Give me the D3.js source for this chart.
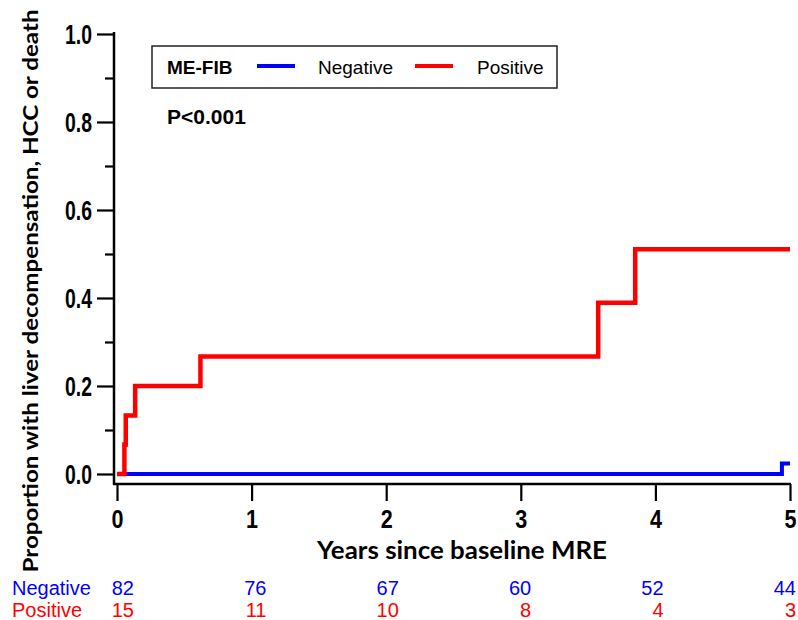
<!DOCTYPE html>
<html lang="en">
<head>
<meta charset="UTF-8">
<title>ME-FIB cumulative incidence</title>
<script src="https://d3js.org/d3.v7.min.js"></script>
<style>
    body { margin: 0; padding: 0; background: #fff; }
    svg { display: block; }
    .tick-label { font-family: 'Liberation Sans', Arial, sans-serif; font-weight: bold; fill: #000; }
</style>
</head>
<body>
<svg id="chart"></svg>
<script>
    // ---- data ----
    const redTimes  = [0, 0.055, 0.065, 0.135, 0.62, 3.575, 3.85];
    const redValues = [0, 0.067, 0.133, 0.2, 0.267, 0.389, 0.511];
    const blueTimes  = [0, 4.94];
    const blueValues = [0, 0.024];
    const endTime = 5;

    const yTicks = [0, 0.2, 0.4, 0.6, 0.8, 1.0];
    const yMinorTicks = [0.1, 0.3, 0.5, 0.7, 0.9];
    const xTicks = [0, 1, 2, 3, 4, 5];

    const riskTimes = [0, 1, 2, 3, 4, 5];
    const negativeRisk = [82, 76, 67, 60, 52, 44];
    const positiveRisk = [15, 11, 10, 8, 4, 3];

    const groupNames = ["Negative", "Positive"];
    const groupColors = ["#0000ff", "#ff0000"];

    const W = 798, H = 620;
    const svg = d3.select("#chart").attr("width", W).attr("height", H);

    // scales
    const x = d3.scaleLinear().domain([0, 5]).range([117, 790]);
    const y = d3.scaleLinear().domain([0, 1]).range([474, 34]);
    const xRisk = d3.scaleLinear().domain([0, 5]).range([134, 796]);

    const axisX = 114, axisY = 484;

    // y axis
    const yAxis = svg.append("g")
        .attr("transform", `translate(${axisX},0)`)
        .call(d3.axisLeft(y).tickValues(yTicks).tickFormat(d3.format(".1f")).tickSize(17).tickPadding(5).tickSizeOuter(0));
    yAxis.select(".domain").remove();
    yAxis.selectAll(".tick line").attr("stroke", "#000").attr("stroke-width", 2.2);
    yAxis.selectAll(".tick text")
        .attr("class", "tick-label")
        .style("font-size", "27px")
        .attr("dy", "0.36em")
        .attr("textLength", 27)
        .attr("lengthAdjust", "spacingAndGlyphs");

    const yMinor = svg.append("g")
        .attr("transform", `translate(${axisX},0)`)
        .call(d3.axisLeft(y).tickValues(yMinorTicks).tickSize(9).tickFormat(""));
    yMinor.select(".domain").remove();
    yMinor.selectAll(".tick line").attr("stroke", "#000").attr("stroke-width", 2.2);

    svg.append("line")
        .attr("x1", axisX).attr("x2", axisX)
        .attr("y1", y(1) - 2).attr("y2", axisY + 1)
        .attr("stroke", "#000").attr("stroke-width", 2.5);

    // x axis
    const xAxis = svg.append("g")
        .attr("transform", `translate(0,${axisY})`)
        .call(d3.axisBottom(x).tickValues(xTicks).tickFormat(d3.format("d")).tickSize(17).tickPadding(9).tickSizeOuter(0));
    xAxis.select(".domain").remove();
    xAxis.selectAll(".tick line").attr("stroke", "#000").attr("stroke-width", 2.2);
    xAxis.selectAll(".tick text")
        .attr("class", "tick-label")
        .style("font-size", "26px")
        .attr("textLength", 12)
        .attr("lengthAdjust", "spacingAndGlyphs");

    svg.append("line")
        .attr("x1", axisX - 1).attr("x2", x(5) + 1)
        .attr("y1", axisY).attr("y2", axisY)
        .attr("stroke", "#000").attr("stroke-width", 2.5);

    // axis titles
    svg.append("text")
        .attr("transform", `translate(38,291) rotate(-90)`)
        .attr("text-anchor", "middle")
        .style("font-family", "Lato, 'Open Sans', sans-serif")
        .style("font-weight", "bold")
        .style("font-size", "21px")
        .attr("textLength", 563)
        .attr("lengthAdjust", "spacingAndGlyphs")
        .text("Proportion with liver decompensation, HCC or death");

    svg.append("text")
        .attr("x", 462).attr("y", 559)
        .attr("text-anchor", "middle")
        .style("font-family", "Lato, 'Open Sans', sans-serif")
        .style("font-weight", "bold")
        .style("font-size", "24px")
        .attr("textLength", 290)
        .attr("lengthAdjust", "spacingAndGlyphs")
        .text("Years since baseline MRE");

    // step curves
    const stepLine = d3.line()
        .x(d => x(d[0]))
        .y(d => y(d[1]))
        .curve(d3.curveStepAfter);

    function curveData(times, values) {
        const pts = times.map((t, i) => [t, values[i]]);
        pts.push([endTime, values[values.length - 1]]);
        return pts;
    }

    svg.append("path")
        .datum(curveData(blueTimes, blueValues))
        .attr("fill", "none")
        .attr("stroke", groupColors[0])
        .attr("stroke-width", 4)
        .attr("d", stepLine);

    svg.append("path")
        .datum(curveData(redTimes, redValues))
        .attr("fill", "none")
        .attr("stroke", groupColors[1])
        .attr("stroke-width", 4.5)
        .attr("d", stepLine);

    // legend
    const legend = svg.append("g");
    legend.append("rect")
        .attr("x", 152).attr("y", 46).attr("width", 405).attr("height", 42)
        .attr("fill", "#fff").attr("stroke", "#222").attr("stroke-width", 1.5);
    legend.append("text")
        .attr("x", 167).attr("y", 74)
        .style("font-family", "'Liberation Sans', Arial, sans-serif")
        .style("font-weight", "bold").style("font-size", "19px")
        .text("ME-FIB");
    const legendItems = [
        { x1: 257, tx: 318 },
        { x1: 415, tx: 477 }
    ];
    legendItems.forEach((d, i) => {
        legend.append("line")
            .attr("x1", d.x1).attr("x2", d.x1 + 38)
            .attr("y1", 66).attr("y2", 66)
            .attr("stroke", groupColors[i]).attr("stroke-width", 4);
        legend.append("text")
            .attr("x", d.tx).attr("y", 74)
            .style("font-family", "'Liberation Sans', Arial, sans-serif")
            .style("font-size", "19px")
            .text(groupNames[i]);
    });

    svg.append("text")
        .attr("x", 167).attr("y", 124)
        .style("font-family", "'Liberation Sans', Arial, sans-serif")
        .style("font-weight", "bold").style("font-size", "21px")
        .text("P<0.001");

    // number at risk
    const riskRows = [negativeRisk, positiveRisk];
    const rowBase = [595, 617];
    riskRows.forEach((row, r) => {
        svg.append("text")
            .attr("x", 12).attr("y", rowBase[r])
            .style("font-family", "'Liberation Sans', Arial, sans-serif")
            .style("font-size", "20px")
            .attr("fill", groupColors[r])
            .text(groupNames[r]);
        svg.selectAll(null)
            .data(row)
            .join("text")
            .attr("x", (d, i) => xRisk(riskTimes[i]))
            .attr("y", rowBase[r])
            .attr("text-anchor", "end")
            .style("font-family", "'Liberation Sans', Arial, sans-serif")
            .style("font-size", "20px")
            .attr("fill", groupColors[r])
            .text(d => d);
    });
</script>
</body>
</html>
